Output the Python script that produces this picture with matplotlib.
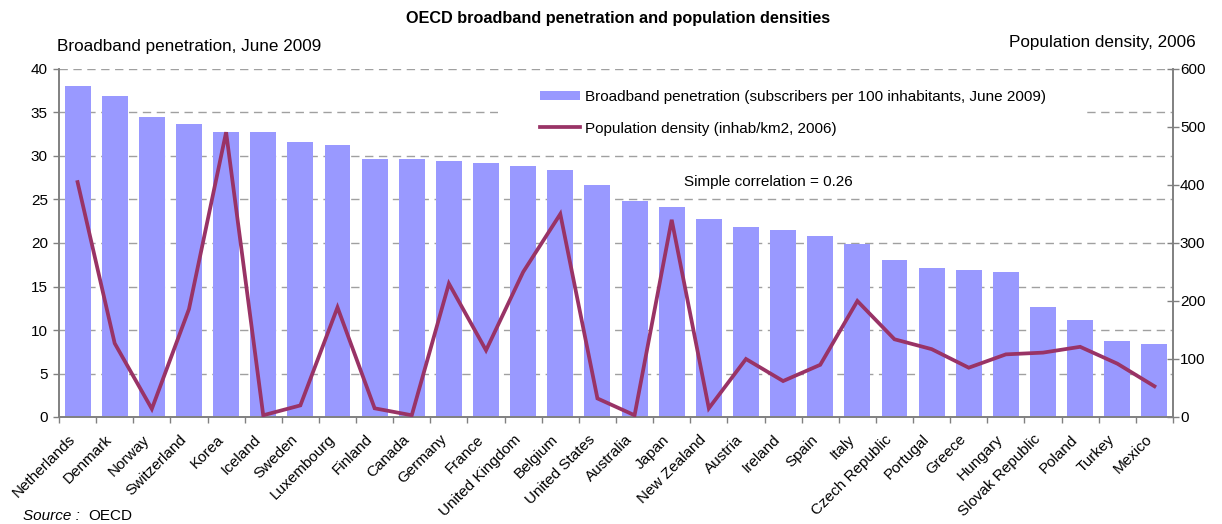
import matplotlib
matplotlib.use("Agg")
import matplotlib.pyplot as plt
from matplotlib.patches import Rectangle
from matplotlib.ticker import MultipleLocator, FixedLocator
from matplotlib.transforms import ScaledTranslation
import numpy as np

plt.rcParams['font.family'] = ['Liberation Sans', 'DejaVu Sans']

countries = ["Netherlands", "Denmark", "Norway", "Switzerland", "Korea", "Iceland",
             "Sweden", "Luxembourg", "Finland", "Canada", "Germany", "France",
             "United Kingdom", "Belgium", "United States", "Australia", "Japan",
             "New Zealand", "Austria", "Ireland", "Spain", "Italy", "Czech Republic",
             "Portugal", "Greece", "Hungary", "Slovak Republic", "Poland", "Turkey",
             "Mexico"]

broadband = [38.1, 36.9, 34.5, 33.7, 32.8, 32.8, 31.6, 31.3, 29.7, 29.7, 29.4, 29.2,
             28.9, 28.4, 26.7, 24.8, 24.1, 22.8, 21.8, 21.5, 20.8, 19.9, 18.0, 17.1,
             16.9, 16.7, 12.6, 11.2, 8.7, 8.4]

density = [405, 127, 14, 186, 491, 3, 20, 189, 15, 3, 230, 115, 250, 350, 32, 3, 340,
           15, 100, 62, 90, 200, 134, 117, 85, 108, 111, 121, 92, 53]

bar_label = "Broadband penetration (subscribers per 100 inhabitants, June 2009)"
line_label = "Population density (inhab/km2, 2006)"

BAR_COLOR = "#9999FF"
LINE_COLOR = "#993366"
AXIS_COLOR = "#808080"
FS = 11

W, H = 1222, 524
fig = plt.figure(figsize=(W / 100, H / 100), dpi=100)
L, R, T, B = 59, 1173, 69, 417
ax = fig.add_axes([L / W, 1 - B / H, (R - L) / W, (B - T) / H])
ax2 = ax.twinx()

x = np.arange(len(countries))
bars = ax.bar(x, broadband, width=0.70, color=BAR_COLOR, zorder=2, label=bar_label)
line, = ax2.plot(x, density, color=LINE_COLOR, lw=2.7, solid_joinstyle='miter',
                 label=line_label, zorder=3)

ax.set_xlim(-0.5, len(countries) - 0.5)
ax.set_ylim(0, 40)
ax2.set_ylim(0, 600)

# Left axis
ax.yaxis.set_major_locator(MultipleLocator(5))
ax.tick_params(axis='y', direction='out', length=4, width=1, color=AXIS_COLOR,
               labelsize=FS, pad=4)
ax.grid(axis='y', color='#A0A0A0', linestyle=(0, (6, 4)), lw=1, zorder=0)
ax.set_axisbelow(True)

# Category axis: labels at centres, ticks between categories
ax.xaxis.set_major_locator(FixedLocator(x))
ax.set_xticklabels(countries, rotation=45, ha='right', rotation_mode='anchor',
                   fontsize=FS)
ax.tick_params(axis='x', which='major', length=0, pad=8)
shift = ScaledTranslation(-7 / 72, -3 / 72, fig.dpi_scale_trans)
for lbl in ax.get_xticklabels():
    lbl.set_transform(lbl.get_transform() + shift)
ax.xaxis.set_minor_locator(FixedLocator(np.arange(-0.5, len(countries), 1.0)))
ax.tick_params(axis='x', which='minor', direction='out', length=4, width=1,
               color=AXIS_COLOR)

# Right axis
ax2.yaxis.set_major_locator(MultipleLocator(100))
ax2.tick_params(axis='y', direction='inout', length=8, width=1, color=AXIS_COLOR,
                labelsize=FS, pad=1)

for a in (ax, ax2):
    a.spines['top'].set_visible(False)
    for s in ('left', 'right', 'bottom'):
        a.spines[s].set_color(AXIS_COLOR)
        a.spines[s].set_linewidth(1.2)

# White panel behind the legend
ax.add_patch(Rectangle((0.394, 0.77), 0.528, 0.205, transform=ax.transAxes,
                       facecolor='white', edgecolor='none', zorder=1))

leg = ax2.legend(handles=[bars, line], labels=[bar_label, line_label],
                 loc='upper left', bbox_to_anchor=(540 / W, 1 - 90 / H),
                 bbox_transform=fig.transFigure, frameon=False, fontsize=FS,
                 handlelength=2.6, handleheight=0.6, handletextpad=0.35,
                 labelspacing=1.15, borderpad=0, borderaxespad=0)

ax2.text(684 / W, 1 - 182 / H, "Simple correlation = 0.26", transform=fig.transFigure,
         fontsize=FS, va='center', ha='left')

fig.text(618 / W, 1 - 18 / H, "OECD broadband penetration and population densities",
         fontsize=11.7, fontweight='bold', ha='center', va='center')
fig.text(57 / W, 1 - 47 / H, "Broadband penetration, June 2009", fontsize=12.3,
         ha='left', va='center')
fig.text(1196 / W, 1 - 42 / H, "Population density, 2006", fontsize=12.3,
         ha='right', va='center')
fig.text(23 / W, 1 - 516 / H, "Source :", fontsize=FS, style='italic',
         ha='left', va='center')
fig.text(88 / W, 1 - 516 / H, "OECD", fontsize=FS, ha='left', va='center')

fig.savefig("out.png", dpi=100)
